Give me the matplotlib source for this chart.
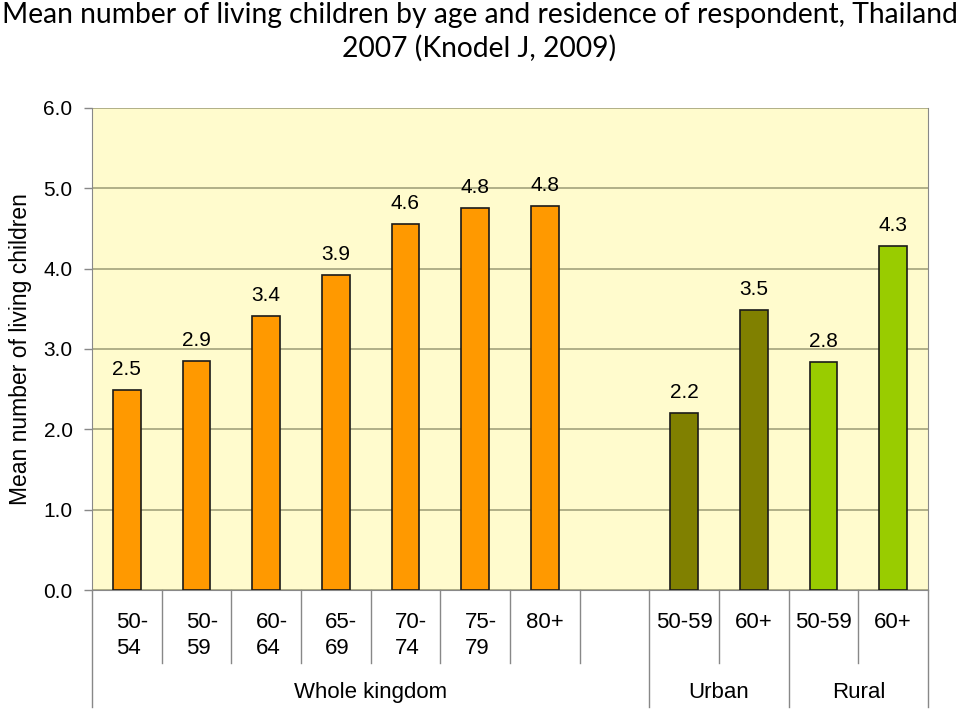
import matplotlib
matplotlib.use('Agg')
import matplotlib.pyplot as plt
import matplotlib.transforms as mtransforms

# data
age_labels = ['50-\n54', '50-\n59', '60-\n64', '65-\n69', '70-\n74', '75-\n79', '80+',
              '', '50-59', '60+', '50-59', '60+']
values = [2.49, 2.85, 3.41, 3.92, 4.55, 4.75, 4.78, None, 2.20, 3.48, 2.84, 4.28]
value_text = ['2.5', '2.9', '3.4', '3.9', '4.6', '4.8', '4.8', '', '2.2', '3.5', '2.8', '4.3']
groups = ['Whole kingdom', 'Urban', 'Rural']
group_spans = [(0, 7), (8, 9), (10, 11)]
group_colors = ['#ff9900', '#808000', '#99cc00']

plt.rcParams['font.family'] = ['Liberation Sans', 'DejaVu Sans']

fig = plt.figure(figsize=(9.59, 7.10), dpi=100)
ax = fig.add_axes([0.0959, 0.169, 0.8718, 0.679])
ax.set_facecolor('#fffbcd')

for gi, (a, b) in enumerate(group_spans):
    for i in range(a, b + 1):
        if values[i] is None:
            continue
        ax.bar(i, values[i], width=0.4, color=group_colors[gi],
               edgecolor='#1a1a1a', linewidth=1.2, zorder=3)
        ax.annotate(value_text[i], (i, values[i]), xytext=(0, 8),
                    textcoords='offset points', ha='center', va='bottom',
                    fontsize=15, zorder=4)

ax.set_xlim(-0.5, 11.5)
ax.set_ylim(0, 6)
ax.set_yticks([0, 1, 2, 3, 4, 5, 6])
ax.set_yticklabels(['%.1f' % v for v in range(7)], fontsize=15)
ax.tick_params(axis='y', length=6, width=1, color='#888888', pad=8)
ax.set_xticks([])
ax.grid(axis='y', color='#a3a37c', linewidth=1.2, zorder=0)
for side in ['left', 'right', 'bottom']:
    ax.spines[side].set_color('#888888')
ax.spines['top'].set_visible(False)
ax.set_ylabel('Mean number of living children', fontsize=16.5, labelpad=8)

# category table under the axis
trans = mtransforms.blended_transform_factory(ax.transData, ax.transAxes)
short_y = -0.151
long_y = -0.243
group_edges = [-0.5, 7.5, 9.5, 11.5]
for k in range(13):
    x = k - 0.5
    y_end = long_y if x in group_edges else short_y
    ax.plot([x, x], [0, y_end], color='#888888', linewidth=1,
            transform=trans, clip_on=False)

for i, lab in enumerate(age_labels):
    if not lab:
        continue
    if '\n' in lab:
        ax.text(i + 0.08, -0.046, lab, transform=trans, ha='center', va='top',
                multialignment='left', fontsize=16, linespacing=1.3)
    else:
        ax.text(i, -0.046, lab, transform=trans, ha='center', va='top',
                fontsize=16)

for (a, b), g in zip(group_spans, groups):
    ax.text((a + b) / 2, -0.213, g, transform=trans, ha='center', va='center',
            fontsize=16)

fig.text(0.5, 0.997, 'Mean number of living children by age and residence of respondent, Thailand\n2007 (Knodel J, 2009)',
         ha='center', va='top', fontsize=20.3, family=['Lato', 'DejaVu Sans'],
         linespacing=1.3)

fig.savefig('out.png', dpi=100, facecolor='white')
